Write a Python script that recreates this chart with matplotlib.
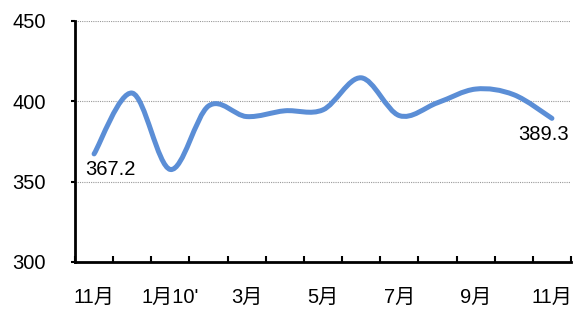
import numpy as np
import matplotlib
matplotlib.use('Agg')
import matplotlib.pyplot as plt
from matplotlib.path import Path
from matplotlib.patches import PathPatch

plt.rcParams['font.family'] = ['Liberation Sans', 'Noto Sans CJK JP', 'DejaVu Sans']

# monthly values, Nov 2009 .. Nov 2010
months = ['11月', '12月', "1月10'", '2月', '3月', '4月', '5月', '6月', '7月', '8月', '9月', '10月', '11月']
values = [367.2, 405.0, 357.5, 397.0, 390.4, 394.0, 394.6, 414.5, 391.0, 399.0, 407.5, 404.0, 389.3]
shown_labels = ['11月', "1月10'", '3月', '5月', '7月', '9月', '11月']

line_color = '#5B8ED6'
fs = 14.5

fig = plt.figure(figsize=(5.73, 3.11), dpi=100)
ax = fig.add_axes([75 / 573, 1 - 262 / 311, 496 / 573, (262 - 20.7) / 311])

# smoothed line (Catmull-Rom as cubic Bezier segments)
x = np.arange(len(values), dtype=float)
y = np.array(values)
pts = np.column_stack([x, y])
ext = np.vstack([pts[0], pts, pts[-1]])
verts = [tuple(pts[0])]
codes = [Path.MOVETO]
for i in range(len(pts) - 1):
    p0, p1, p2, p3 = ext[i], ext[i + 1], ext[i + 2], ext[i + 3]
    c1 = p1 + (p2 - p0) / 6
    c2 = p2 - (p3 - p1) / 6
    verts += [tuple(c1), tuple(c2), tuple(p2)]
    codes += [Path.CURVE4] * 3
ax.add_patch(PathPatch(Path(verts, codes), facecolor='none', edgecolor=line_color,
                       lw=3.6, capstyle='round', joinstyle='round', zorder=3))

ax.set_xlim(-0.5, len(values) - 0.5)
ax.set_ylim(300, 450)
ax.set_yticks([300, 350, 400, 450])

# category boundaries as major ticks, labels on minor ticks
ax.set_xticks(np.arange(-0.5, len(values), 1.0))
ax.set_xticklabels([])
ax.set_xticks(np.arange(0, len(values), 2), minor=True)
ax.set_xticklabels(shown_labels, minor=True)
ax.tick_params(axis='x', which='major', direction='in', length=4, width=1.5)
ax.tick_params(axis='x', which='minor', length=0, pad=19, labelsize=fs)
ax.tick_params(axis='y', direction='out', length=3, width=1.5, pad=18, labelsize=fs)

for yv in [350, 400, 450]:
    ax.axhline(yv, color='#999999', lw=0.8, ls=(0, (1, 1)), zorder=1)

for s in ['top', 'right']:
    ax.spines[s].set_visible(False)
for s in ['left', 'bottom']:
    ax.spines[s].set_linewidth(2)
    ax.spines[s].set_color('black')

ax.text(0.42, 357.5, '367.2', fontsize=fs, ha='center', va='center')
ax.text(11.77, 379.1, '389.3', fontsize=fs, ha='center', va='center')

fig.savefig('out.png', dpi=100)
